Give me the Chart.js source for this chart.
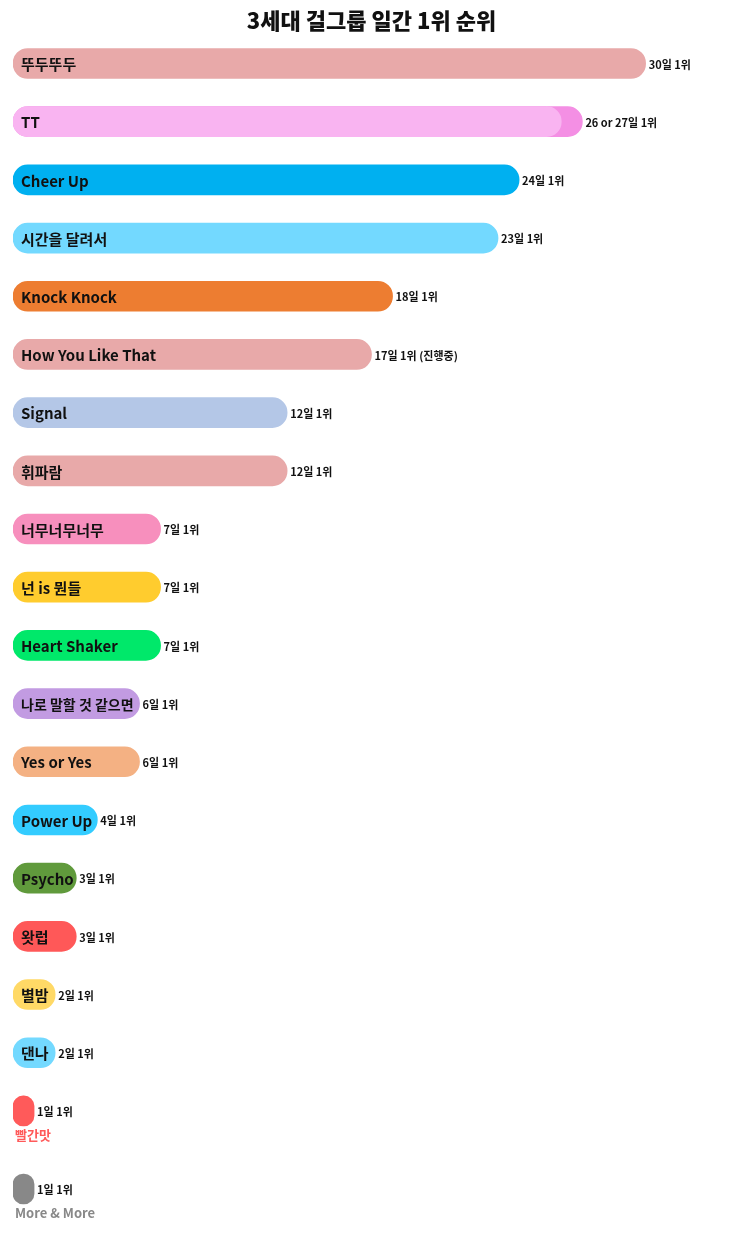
<!DOCTYPE html>
<html><head><meta charset="utf-8">
<script src="https://cdn.jsdelivr.net/npm/chart.js@4"></script>
<style>html,body{margin:0;padding:0;background:#fff}canvas{display:block}</style>
</head><body>
<canvas id="c1" width="743" height="1160"></canvas>
<canvas id="c2" width="743" height="83"></canvas>
<script>
const songs = ['뚜두뚜두','TT','Cheer Up','시간을 달려서','Knock Knock','How You Like That','Signal','휘파람','너무너무너무','넌 is 뭔들','Heart Shaker','나로 말할 것 같으면','Yes or Yes','Power Up','Psycho','왓럽','별밤','댄나','빨간맛','More & More'];
const days = [30,27,24,23,18,17,13,13,7,7,7,6,6,4,3,3,2,2,1,1];
const ttLower = [null,26,null,null,null,null,null,null,null,null,null,null,null,null,null,null,null,null,null,null];
const dayLabels = ['30일 1위','26 or 27일 1위','24일 1위','23일 1위','18일 1위','17일 1위 (진행중)','12일 1위','12일 1위','7일 1위','7일 1위','7일 1위','6일 1위','6일 1위','4일 1위','3일 1위','3일 1위','2일 1위','2일 1위','1일 1위','1일 1위'];
const colors = ['#E8A9A9','#F48FE4','#00B0F0','#73D9FF','#ED7D31','#E8A9A9','#B4C7E7','#E8A9A9','#F78FBD','#FFCC2E','#00E86A','#C29BE2','#F4B183','#33CCFF','#609A3C','#FF5858','#FFD966','#73D9FF','#FF5A5A','#888888'];
const belowLabel = [false,false,false,false,false,false,false,false,false,false,false,false,false,false,false,false,false,false,true,true];
const FONT = '"Noto Sans CJK KR", "Noto Sans", sans-serif';

function makeLabelPlugin(offset) {
  return {
    id: 'labels',
    afterDatasetsDraw(chart) {
      const ctx = chart.ctx;
      const meta = chart.getDatasetMeta(1);
      ctx.save();
      ctx.textBaseline = 'middle';
      meta.data.forEach((bar, j) => {
        const i = j + offset;
        const left = bar.base, right = bar.x, y = bar.y;
        if (belowLabel[i]) {
          ctx.fillStyle = colors[i];
          ctx.font = 'bold 13px ' + FONT;
          ctx.textAlign = 'left';
          ctx.fillText(songs[i], left + 2, y + 24);
        } else {
          ctx.fillStyle = '#111';
          ctx.font = (songs[i].length > 10 && /[가-힣]/.test(songs[i]) ? 'bold 14px ' : 'bold 15px ') + FONT;
          ctx.textAlign = 'left';
          ctx.fillText(songs[i], left + 8, y + 1);
        }
        ctx.fillStyle = '#111';
        ctx.font = 'bold 11px ' + FONT;
        ctx.textAlign = 'left';
        ctx.fillText(dayLabels[i], right + 3, y + 1);
      });
      ctx.restore();
    }
  };
}

function makeChart(id, start, end, titleOn, padTop, padBottom) {
  return new Chart(document.getElementById(id), {
    type: 'bar',
    data: {
      labels: songs.slice(start, end),
      datasets: [
        { data: ttLower.slice(start, end), backgroundColor: '#F9B4F1', borderRadius: 15, borderSkipped: false, barThickness: 30, grouped: false },
        { data: days.slice(start, end), backgroundColor: colors.slice(start, end), borderRadius: 15, borderSkipped: false, barThickness: 30, grouped: false }
      ]
    },
    options: {
      indexAxis: 'y',
      responsive: false,
      animation: false,
      layout: { padding: { left: 13, right: 13, top: padTop, bottom: padBottom } },
      scales: { x: { display: false, min: 0, max: 34 }, y: { display: false } },
      plugins: {
        legend: { display: false },
        tooltip: { enabled: false },
        title: { display: titleOn, text: '3세대 걸그룹 일간 1위 순위', color: '#111', font: { family: FONT, size: 22, weight: '900' }, padding: { top: 7, bottom: 1 } }
      }
    },
    plugins: [makeLabelPlugin(start)]
  });
}

makeChart('c1', 0, 19, true, 0, 20);
makeChart('c2', 19, 20, false, 0, 25);
</script></body></html>
